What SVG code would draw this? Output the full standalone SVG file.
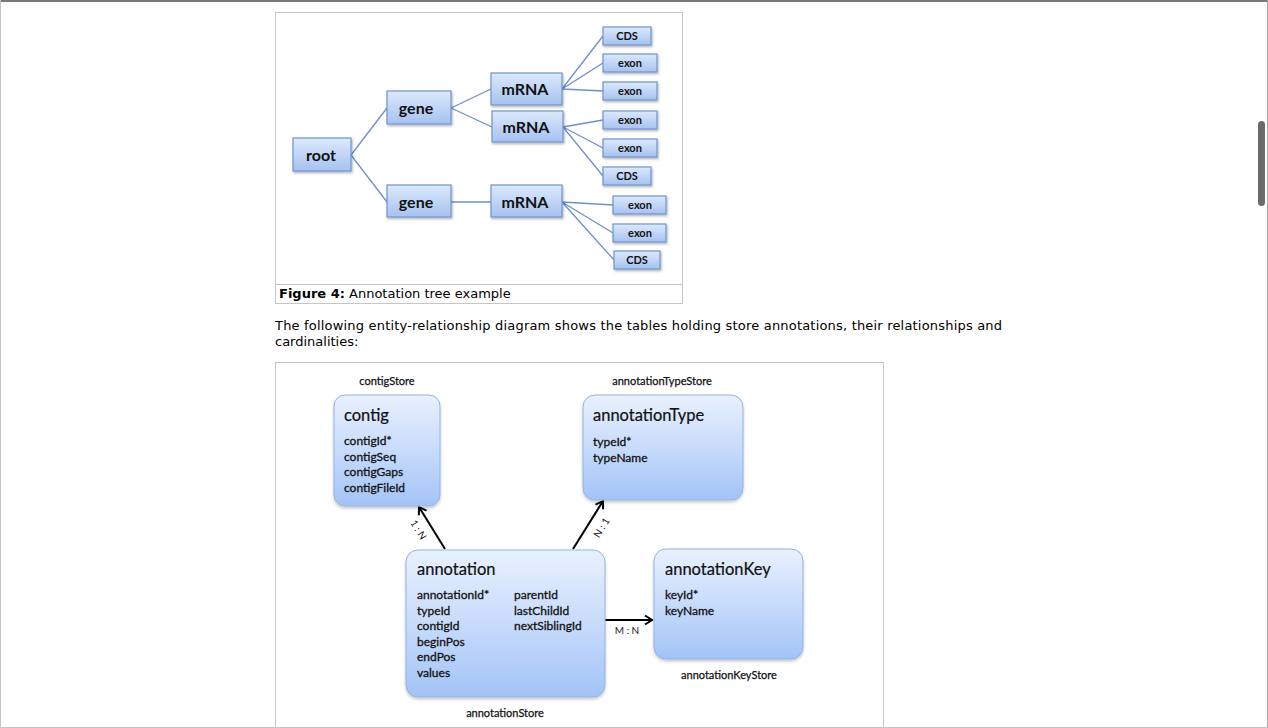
<svg xmlns="http://www.w3.org/2000/svg" width="1268" height="728" viewBox="0 0 1268 728">
  <style>
    .frame { fill: none; stroke: #c6c6c6; stroke-width: 1; }
    .tnode { fill: url(#treeFill); stroke: #6f94cf; stroke-width: 1.2; filter: url(#treeShadow); }
    .tlink { fill: none; stroke: #6e90c8; stroke-width: 1.3; }
    .tbig { font-family: Lato, "Open Sans", sans-serif; font-size: 16px; font-weight: 700; fill: #111; text-anchor: middle; }
    .tsmall { font-family: Lato, "Open Sans", sans-serif; font-size: 11px; font-weight: 700; fill: #111; text-anchor: middle; }
    .ebox { fill: url(#erFill); stroke: #93b3e3; stroke-width: 1; filter: url(#erShadow); }
    .etitle { font-family: Lato, "Open Sans", sans-serif; font-size: 16.5px; fill: #111; stroke: #111; stroke-width: 0.2; }
    .efield { font-family: Lato, "Open Sans", sans-serif; font-size: 12px; fill: #111; stroke: #111; stroke-width: 0.3; }
    .store { font-family: Lato, "Open Sans", sans-serif; font-size: 11px; fill: #111; stroke: #111; stroke-width: 0.25; text-anchor: middle; }
    .card { font-family: Lato, "Open Sans", sans-serif; font-size: 10px; fill: #222; text-anchor: middle; }
    .rel { fill: none; stroke: #000; stroke-width: 2; marker-end: url(#head); }
    .page { font-family: "DejaVu Sans", Verdana, sans-serif; font-size: 13px; fill: #000; }
  </style>
  <defs>
    <linearGradient id="treeFill" x1="0" y1="0" x2="0" y2="1">
      <stop offset="0" stop-color="#dce9fd"/>
      <stop offset="1" stop-color="#a6c2f0"/>
    </linearGradient>
    <linearGradient id="erFill" x1="0" y1="0" x2="0" y2="1">
      <stop offset="0" stop-color="#e9f1fe"/>
      <stop offset="0.55" stop-color="#c4d9fb"/>
      <stop offset="1" stop-color="#a3c3f6"/>
    </linearGradient>
    <filter id="treeShadow" x="-10%" y="-10%" width="130%" height="140%">
      <feDropShadow dx="1" dy="1.5" stdDeviation="0.8" flood-color="#000" flood-opacity="0.3"/>
    </filter>
    <filter id="erShadow" x="-10%" y="-10%" width="125%" height="125%">
      <feDropShadow dx="0" dy="2" stdDeviation="1.5" flood-color="#000" flood-opacity="0.22"/>
    </filter>
    <marker id="head" markerWidth="12" markerHeight="12" refX="9" refY="6" orient="auto" markerUnits="userSpaceOnUse">
      <path d="M2,1.5 L9,6 L2,10.5" fill="none" stroke="#000" stroke-width="2"/>
    </marker>
  </defs>

  <!-- page background and window edges -->
  <rect x="0" y="0" width="1268" height="728" fill="#fff"/>
  <line x1="0" y1="1" x2="1268" y2="1" stroke="#7a7a7a" stroke-width="2"/>
  <line x1="0.5" y1="0" x2="0.5" y2="728" stroke="#c4c4c4"/>
  <line x1="1267.5" y1="0" x2="1267.5" y2="728" stroke="#a8a8a8"/>
  <line x1="0" y1="727.5" x2="1268" y2="727.5" stroke="#c4c4c4"/>
  <rect x="1258" y="121" width="7" height="85" rx="3.5" fill="#6b6b6b"/>

  <!-- figure 4 frame with caption row -->
  <rect class="frame" x="275.5" y="12.5" width="407" height="291"/>
  <line class="frame" x1="275.5" y1="284.5" x2="682.5" y2="284.5"/>
  <text class="page" x="279" y="298"><tspan font-weight="700">Figure 4:</tspan> Annotation tree example</text>

  <!-- tree connectors -->
  <g id="tree-links">
    <path class="tlink" d="M351,155 L387,108 M351,155 L387,202"/>
    <path class="tlink" d="M451,108 L491,89 M451,108 L492,127 M451,202 L491,202"/>
    <path class="tlink" d="M562,89 L603,36 M562,89 L603,63 M562,89 L603,91"/>
    <path class="tlink" d="M563,127 L603,120 M563,127 L603,148 M563,127 L603,176"/>
    <path class="tlink" d="M562,202 L613,205 M562,202 L613,233 M562,202 L614,260"/>
  </g>

  <!-- tree nodes -->
  <g id="t-root"><rect class="tnode" x="293" y="138" width="58" height="33"/><text class="tbig" x="321" y="161">root</text></g>
  <g id="t-gene1"><rect class="tnode" x="387" y="91" width="64" height="33"/><text class="tbig" x="416" y="114">gene</text></g>
  <g id="t-gene2"><rect class="tnode" x="387" y="185" width="64" height="32"/><text class="tbig" x="416" y="208">gene</text></g>
  <g id="t-mrna1"><rect class="tnode" x="491" y="73" width="71" height="32"/><text class="tbig" x="525" y="95">mRNA</text></g>
  <g id="t-mrna2"><rect class="tnode" x="492" y="111" width="71" height="31"/><text class="tbig" x="526" y="133">mRNA</text></g>
  <g id="t-mrna3"><rect class="tnode" x="491" y="185" width="71" height="32"/><text class="tbig" x="525" y="208">mRNA</text></g>
  <g id="t-cds1"><rect class="tnode" x="603" y="27" width="48" height="18"/><text class="tsmall" x="627" y="40">CDS</text></g>
  <g id="t-exon1"><rect class="tnode" x="603" y="54" width="54" height="18"/><text class="tsmall" x="630" y="67">exon</text></g>
  <g id="t-exon2"><rect class="tnode" x="603" y="82" width="54" height="18"/><text class="tsmall" x="630" y="95">exon</text></g>
  <g id="t-exon3"><rect class="tnode" x="603" y="111" width="54" height="18"/><text class="tsmall" x="630" y="124">exon</text></g>
  <g id="t-exon4"><rect class="tnode" x="603" y="139" width="54" height="18"/><text class="tsmall" x="630" y="152">exon</text></g>
  <g id="t-cds2"><rect class="tnode" x="603" y="167" width="48" height="18"/><text class="tsmall" x="627" y="180">CDS</text></g>
  <g id="t-exon5"><rect class="tnode" x="613" y="196" width="53" height="18"/><text class="tsmall" x="640" y="209">exon</text></g>
  <g id="t-exon6"><rect class="tnode" x="613" y="224" width="53" height="18"/><text class="tsmall" x="640" y="237">exon</text></g>
  <g id="t-cds3"><rect class="tnode" x="614" y="251" width="46" height="18"/><text class="tsmall" x="637" y="264">CDS</text></g>

  <!-- paragraph between the figures -->
  <text class="page" x="275" y="330" textLength="727">The following entity-relationship diagram shows the tables holding store annotations, their relationships and</text>
  <text class="page" x="275" y="346">cardinalities:</text>

  <!-- entity-relationship figure frame -->
  <rect class="frame" x="275.5" y="362.5" width="608" height="366"/>

  <!-- relationships -->
  <g id="relations">
    <line class="rel" x1="445" y1="549" x2="419" y2="507"/>
    <line class="rel" x1="573" y1="549" x2="603" y2="501"/>
    <line class="rel" x1="605" y1="620" x2="652" y2="620"/>
    <text class="card" transform="translate(418,530) rotate(58)" y="3">1 : N</text>
    <text class="card" transform="translate(602,528) rotate(-58)" y="3">N : 1</text>
    <text class="card" x="627" y="634">M : N</text>
  </g>

  <!-- tables -->
  <g id="contig">
    <text class="store" x="387" y="385">contigStore</text>
    <rect class="ebox" x="334" y="395" width="106" height="111" rx="11"/>
    <text class="etitle" x="344" y="421">contig</text>
    <text class="efield" x="344" y="445">contigId*</text>
    <text class="efield" x="344" y="461">contigSeq</text>
    <text class="efield" x="344" y="476">contigGaps</text>
    <text class="efield" x="344" y="492">contigFileId</text>
  </g>
  <g id="annotationType">
    <text class="store" x="662" y="385">annotationTypeStore</text>
    <rect class="ebox" x="583" y="395" width="160" height="105" rx="12"/>
    <text class="etitle" x="593" y="421">annotationType</text>
    <text class="efield" x="593" y="446">typeId*</text>
    <text class="efield" x="593" y="462">typeName</text>
  </g>
  <g id="annotation">
    <rect class="ebox" x="406" y="550" width="199" height="147" rx="12"/>
    <text class="etitle" x="417" y="575">annotation</text>
    <text class="efield" x="417" y="599">annotationId*</text>
    <text class="efield" x="417" y="615">typeId</text>
    <text class="efield" x="417" y="630">contigId</text>
    <text class="efield" x="417" y="646">beginPos</text>
    <text class="efield" x="417" y="661">endPos</text>
    <text class="efield" x="417" y="677">values</text>
    <text class="efield" x="514" y="599">parentId</text>
    <text class="efield" x="514" y="615">lastChildId</text>
    <text class="efield" x="514" y="630">nextSiblingId</text>
    <text class="store" x="505" y="717">annotationStore</text>
  </g>
  <g id="annotationKey">
    <rect class="ebox" x="654" y="549" width="149" height="110" rx="12"/>
    <text class="etitle" x="665" y="575">annotationKey</text>
    <text class="efield" x="665" y="599">keyId*</text>
    <text class="efield" x="665" y="615">keyName</text>
    <text class="store" x="729" y="679">annotationKeyStore</text>
  </g>
</svg>
